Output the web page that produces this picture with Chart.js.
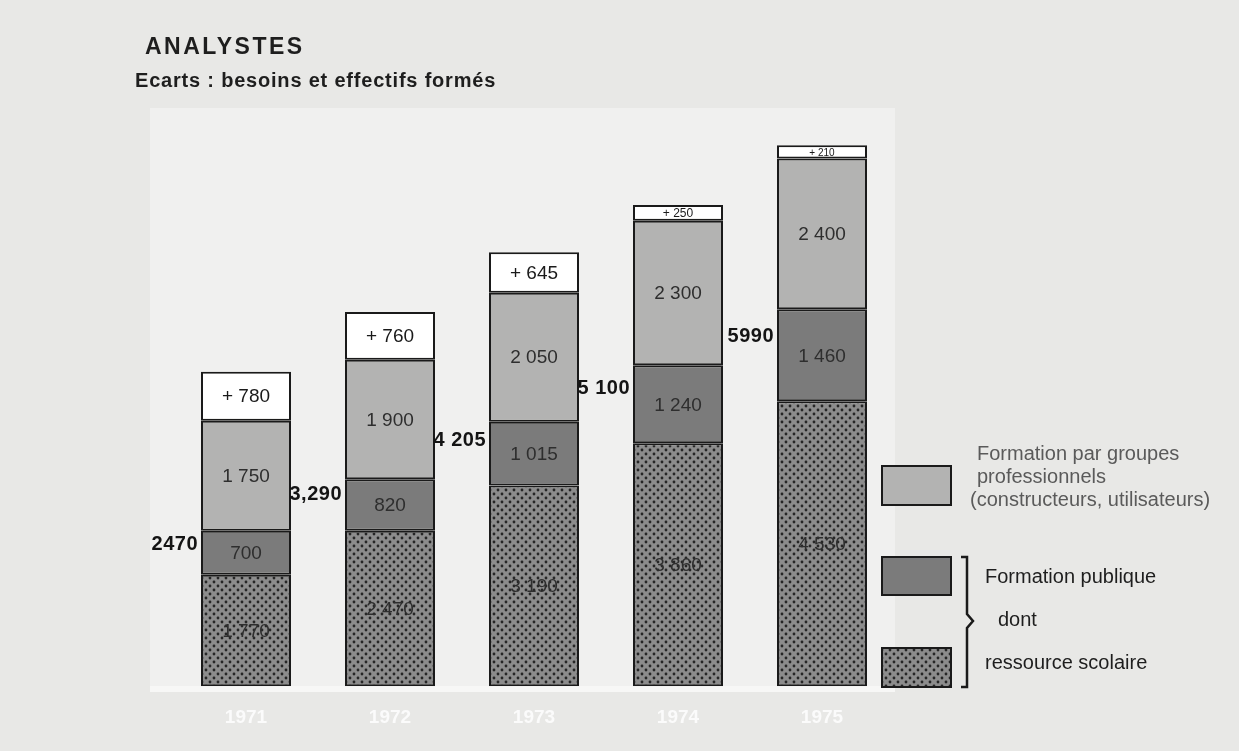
<!DOCTYPE html>
<html>
<head>
<meta charset="utf-8">
<script src="https://cdn.jsdelivr.net/npm/chart.js@4"></script>
<style>
html,body{margin:0;padding:0;background:#e8e8e6;}
#wrap{position:relative;width:1239px;height:751px;}
canvas{display:block;}
</style>
</head>
<body>
<div id="wrap"><canvas id="c" width="1239" height="751"></canvas></div>
<script>
// ---- data ----
const years = ['1971', '1972', '1973', '1974', '1975'];
const ressourceScolaire = [1770, 2470, 3190, 3860, 4530];
const formationPublique = [700, 820, 1015, 1240, 1460];
const groupesPro = [1750, 1900, 2050, 2300, 2400];
const ecarts = [780, 760, 645, 250, 210];
const totalPublicLabels = ['2470', '3,290', '4 205', '5 100', '5990'];

const FONT = '"Liberation Sans", Arial, Helvetica, sans-serif';

function fmt(v) {
  const s = String(v);
  return s.length > 3 ? s.slice(0, s.length - 3) + ' ' + s.slice(-3) : s;
}

function dotPattern() {
  const t = document.createElement('canvas');
  t.width = 8; t.height = 8;
  const g = t.getContext('2d');
  g.fillStyle = '#8c8c8c';
  g.fillRect(0, 0, 8, 8);
  g.fillStyle = '#262626';
  [[2, 2], [6, 6]].forEach(([x, y]) => {
    g.beginPath(); g.arc(x, y, 1.4, 0, Math.PI * 2); g.fill();
  });
  return g.createPattern(t, 'repeat');
}
const pat = dotPattern();

const bgPlugin = {
  id: 'bg',
  beforeDraw(chart) {
    const ctx = chart.ctx;
    ctx.save();
    ctx.fillStyle = '#e8e8e6';
    ctx.fillRect(0, 0, chart.width, chart.height);
    ctx.fillStyle = '#f0f0ef';
    ctx.fillRect(150, 108, 745, 580);
    ctx.fillStyle = '#f7f7f6';
    ctx.fillRect(150, 686, 745, 6);
    ctx.restore();
  }
};

const labelPlugin = {
  id: 'labels',
  afterDatasetsDraw(chart) {
    const ctx = chart.ctx;
    ctx.save();
    ctx.textAlign = 'center';
    ctx.textBaseline = 'middle';
    chart.data.datasets.forEach((ds, di) => {
      const meta = chart.getDatasetMeta(di);
      meta.data.forEach((bar, i) => {
        const v = ds.data[i];
        const h = Math.abs(bar.base - bar.y);
        const y = (bar.y + bar.base) / 2;
        const size = Math.max(10, Math.min(19, Math.floor(h - 3)));
        ctx.font = size + 'px ' + FONT;
        ctx.fillStyle = di === 3 ? '#1a1a1a' : '#2e2e2e';
        const txt = di === 3 ? '+ ' + v : fmt(v);
        ctx.fillText(txt, bar.x, y + 1);
      });
    });
    // totals of public training, left of each bar
    const yScale = chart.scales.y;
    const meta0 = chart.getDatasetMeta(0);
    ctx.font = 'bold 20px ' + FONT;
    ctx.letterSpacing = '0.5px';
    ctx.fillStyle = '#141414';
    ctx.textAlign = 'right';
    meta0.data.forEach((bar, i) => {
      const y = yScale.getPixelForValue(ressourceScolaire[i] + formationPublique[i] * 0.7);
      ctx.fillText(totalPublicLabels[i], bar.x - bar.width / 2 - 3, y);
    });
    ctx.restore();
  }
};

const decoPlugin = {
  id: 'deco',
  afterDraw(chart) {
    const ctx = chart.ctx;
    ctx.save();
    // titles
    ctx.fillStyle = '#1e1e1e';
    ctx.textBaseline = 'alphabetic';
    ctx.textAlign = 'left';
    ctx.font = 'bold 23px ' + FONT;
    ctx.letterSpacing = '2.5px';
    ctx.fillText('ANALYSTES', 145, 54);
    ctx.letterSpacing = '0.8px';
    ctx.font = 'bold 20px ' + FONT;
    ctx.fillText('Ecarts : besoins et effectifs formés', 135, 87);
    ctx.letterSpacing = '0px';

    // legend boxes
    const boxes = [
      {y: 466, h: 39, fill: '#b3b3b2'},
      {y: 557, h: 38, fill: '#7b7b7b'},
      {y: 648, h: 39, fill: pat}
    ];
    boxes.forEach(b => {
      ctx.fillStyle = b.fill;
      ctx.fillRect(882, b.y, 69, b.h);
      ctx.lineWidth = 2;
      ctx.strokeStyle = '#1a1a1a';
      ctx.strokeRect(882, b.y, 69, b.h);
    });
    // brace
    ctx.strokeStyle = '#1a1a1a';
    ctx.lineWidth = 2.5;
    ctx.beginPath();
    ctx.moveTo(961, 557); ctx.lineTo(967, 557); ctx.lineTo(967, 614);
    ctx.lineTo(973, 621); ctx.lineTo(967, 628); ctx.lineTo(967, 687); ctx.lineTo(961, 687);
    ctx.stroke();

    // legend texts
    ctx.font = '20px ' + FONT;
    ctx.fillStyle = '#5a5a5a';
    ctx.textBaseline = 'middle';
    ctx.fillText('Formation par groupes', 977, 454);
    ctx.fillText('professionnels', 977, 477);
    ctx.fillText('(constructeurs, utilisateurs)', 970, 500);
    ctx.fillStyle = '#1e1e1e';
    ctx.fillText('Formation publique', 985, 577);
    ctx.fillText('dont', 998, 620);
    ctx.fillText('ressource scolaire', 985, 663);
    ctx.restore();
  }
};

const ds = (label, data, bg) => ({
  label, data, backgroundColor: bg, borderColor: '#1a1a1a',
  borderWidth: 2, borderSkipped: false
});

new Chart(document.getElementById('c'), {
  type: 'bar',
  data: {
    labels: years,
    datasets: [
      ds('ressource scolaire', ressourceScolaire, pat),
      ds('Formation publique', formationPublique, '#7b7b7b'),
      ds('Formation par groupes professionnels', groupesPro, '#b3b3b2'),
      ds('Ecart', ecarts, '#ffffff')
    ]
  },
  options: {
    responsive: false,
    animation: false,
    events: [],
    layout: {padding: {left: 174, right: 345, top: 98, bottom: 2}},
    datasets: {bar: {categoryPercentage: 1, barPercentage: 0.625}},
    plugins: {legend: {display: false}, tooltip: {enabled: false}, title: {display: false}},
    scales: {
      x: {
        stacked: true,
        grid: {display: false, drawTicks: false},
        border: {display: false},
        ticks: {color: '#fbfbfb', font: {family: FONT, size: 19, weight: 'bold'}, padding: 20}
      },
      y: {stacked: true, display: false, min: 0, max: 9350}
    }
  },
  plugins: [bgPlugin, labelPlugin, decoPlugin]
});
</script>
</body>
</html>
